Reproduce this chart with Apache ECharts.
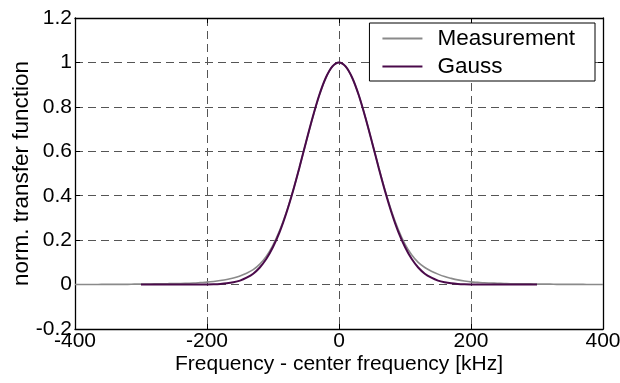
<!DOCTYPE html>
<html>
<head>
<meta charset="utf-8">
<script src="https://cdn.jsdelivr.net/npm/echarts@6/dist/echarts.min.js"></script>
<style>html,body{margin:0;padding:0;background:#fff;}#c{width:620px;height:383px;}</style>
</head>
<body>
<div id="c"></div>
<script>
const measFreq = [-400,-390,-380,-370,-360,-350,-340,-330,-320,-310,-300,-290,-280,-270,-260,-250,-240,-230,-220,-210,-200,-190,-180,-170,-160,-150,-140,-130,-120,-110,-100,-90,-80,-70,-60,-50,-40,-30,-20,-10,0,10,20,30,40,50,60,70,80,90,100,110,120,130,140,150,160,170,180,190,200,210,220,230,240,250,260,270,280,290,300,310,320,330,340,350,360,370,380,390,400];
const measVals = [0,0,0,0,0.001,0.001,0.001,0.001,0.001,0.002,0.002,0.002,0.003,0.003,0.004,0.005,0.005,0.006,0.007,0.009,0.011,0.014,0.018,0.023,0.030,0.039,0.051,0.067,0.092,0.128,0.178,0.243,0.323,0.419,0.526,0.640,0.750,0.850,0.930,0.982,1.0,0.982,0.931,0.852,0.752,0.642,0.529,0.422,0.327,0.247,0.182,0.134,0.100,0.077,0.060,0.047,0.036,0.028,0.021,0.016,0.012,0.010,0.008,0.007,0.006,0.005,0.004,0.004,0.003,0.003,0.002,0.002,0.002,0.001,0.001,0.001,0.001,0.001,0,0,0];
const gaussFreq = [-300,-290,-280,-270,-260,-250,-240,-230,-220,-210,-200,-190,-180,-170,-160,-150,-140,-130,-120,-110,-100,-90,-80,-70,-60,-50,-40,-30,-20,-10,0,10,20,30,40,50,60,70,80,90,100,110,120,130,140,150,160,170,180,190,200,210,220,230,240,250,260,270,280,290,300];
const gaussVals = [0,0,0,0,0,0,0.0001,0.0001,0.0002,0.0004,0.0008,0.0016,0.0031,0.0058,0.0105,0.018,0.031,0.049,0.077,0.116,0.169,0.236,0.320,0.418,0.527,0.641,0.752,0.852,0.931,0.982,1.0,0.982,0.931,0.852,0.752,0.641,0.527,0.418,0.320,0.236,0.169,0.116,0.077,0.049,0.031,0.018,0.0105,0.0058,0.0031,0.0016,0.0008,0.0004,0.0002,0.0001,0.0001,0,0,0,0,0,0];
const seriesNames = ['Measurement','Gauss'];
const xTitle = 'Frequency - center frequency [kHz]';
const yTitle = 'norm. transfer function';

const FONT = 'Liberation Sans, Arial, sans-serif';
const chart = echarts.init(document.getElementById('c'), null, {renderer:'canvas'});
const gridLine = {show:true, lineStyle:{color:'#555', width:1, type:[8,5]}};
const axLine = {show:true, onZero:false, lineStyle:{color:'#000', width:1.3}};
const tick = {show:true, inside:true, length:5, lineStyle:{color:'#000', width:1}};
chart.setOption({
  animation:false,
  backgroundColor:'#fff',
  grid:{left:75, right:17, top:18, bottom:54, containLabel:false, outerBoundsMode:'none'},
  legend:{
    data:seriesNames, orient:'vertical', right:25, top:23, icon:'rect',
    backgroundColor:'#fff', borderColor:'#000', borderWidth:1, borderRadius:0,
    padding:[4,20,3,13], itemWidth:40, itemHeight:2, itemGap:5,
    textStyle:{fontFamily:FONT, fontSize:22.5, color:'#000', padding:[0,0,0,10], lineHeight:22}
  },
  xAxis:[
    {type:'value', min:-400, max:400, interval:200, position:'bottom',
     name:xTitle, nameLocation:'middle', nameGap:25, nameMoveOverlap:false,
     nameTextStyle:{fontFamily:FONT, fontSize:21, color:'#000'},
     axisLine:axLine, axisTick:tick, splitLine:gridLine,
     axisLabel:{fontFamily:FONT, fontSize:21, color:'#000', margin:2}},
    {type:'value', min:-400, max:400, interval:200, position:'top',
     axisLine:axLine, axisTick:tick, splitLine:{show:false}, axisLabel:{show:false}}
  ],
  yAxis:[
    {type:'value', min:-0.2, max:1.2, interval:0.2, position:'left',
     name:yTitle, nameLocation:'middle', nameGap:42, nameRotate:90, nameMoveOverlap:false,
     nameTextStyle:{fontFamily:FONT, fontSize:22.5, color:'#000'},
     axisLine:axLine, axisTick:tick, splitLine:gridLine,
     axisLabel:{fontFamily:FONT, fontSize:21, color:'#000', margin:3}},
    {type:'value', min:-0.2, max:1.2, interval:0.2, position:'right',
     axisLine:axLine, axisTick:tick, splitLine:{show:false}, axisLabel:{show:false}}
  ],
  series:[
    {name:seriesNames[0], type:'line', symbol:'none', smooth:0.3,
     data:measFreq.map((f,i)=>[f, measVals[i]]),
     lineStyle:{color:'#8a8a8a', width:1.6}, itemStyle:{color:'#8a8a8a'}, z:2},
    {name:seriesNames[1], type:'line', symbol:'none', smooth:0.3,
     data:gaussFreq.map((f,i)=>[f, gaussVals[i]]),
     lineStyle:{color:'#4a0a4a', width:2}, itemStyle:{color:'#4a0a4a'}, z:3}
  ]
});
</script>
</body>
</html>
